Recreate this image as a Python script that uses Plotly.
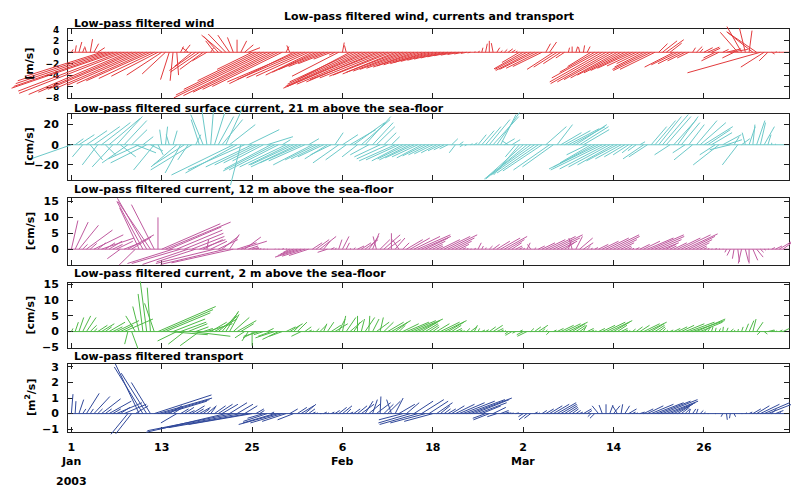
import numpy as np
import plotly.graph_objects as go

# ---------------- data (stick components, 12-hourly from 1 Jan 2003) ----------------
wind_u = [
    0.3, 0.2, 0.5, 0.3, -0.3, 0.4, 0.8, 1.2, -13, -15,
    -16, -17, -18, -17.5, -18, -17, -16, -15, -14, -13,
    -12, -11, -9.5, -8, -6, -4, -1.5, -0.5, 0.3, 0.5,
    1.0, -1.0, -3.0, -4.5, -5.0, -4.0, -2.5, 0.5, -1.5, -2.5,
    -3.5, -3.0, -2.0, -1.0, 0.0, 1.0, 1.5, 2.0, -6, -10,
    -13, -15, -16, -15, -14, -13, -12, 0.5, -0.5, -11,
    -12, -11, -10, -9, -8, -7.5, -7, -6, -5, -3,
    -1.0, -8, 0.3, -0.3, -9, -11, -12, -13, -14, -14,
    -13, -12, -12, -11, -10, -10, -9, -9, -8.5, -8,
    -7.5, -7, -7, -6.5, -6, -6, -5.5, -5, -4.5, -4,
    -3.5, -3, -2.5, -2, -1.5, -1, -0.5, 0.2, 0.3, 0.2,
    0.3, 0.0, -0.3, 0.5, 0.3, 0.5, 0.8, 0.6, 0.3, -3,
    -5, -5.5, -6, -6, -5.5, -5, 0.8, 1.2, -4.5, -4,
    -3, -1.5, 0.2, 0.0, 0.3, -0.2, 0.2, 0.5, -4, -6,
    -8, -9, -9.5, -9, -8.5, -8, -7.5, -7, -6.5, -6,
    -5, -4, -5, -6, -6.5, -6, 1.5, 2.5, 3.0, 2.0,
    -5, -4.5, -4, -3, -2, 0.5, 1.0, 0.5, 1.5, 2.0,
    1.5, -2, -3, 1.0, 2.5, 3.0, -2, -3.0, -2.5, -1.0,
    0.5, -4.5, -5, -12.5, -4.0, -1.5, 0.5, 0.2, 0.1, 0,
]
wind_v = [
    0.5, 1.2, 1.8, 0.8, 1.0, 2.3, 1.5, 0.8, -4.2, -5.0,
    -5.5, -6.0, -6.3, -6.8, -7.2, -7.4, -7.0, -6.5, -6.2, -5.8,
    -5.5, -5.0, -4.6, -4.2, -4.0, -3.8, -4.8, -5.0, -4.0, 1.0,
    1.3, 0.8, -2.5, -3.2, -3.5, -3.0, -1.5, 0.8, 2.0, 2.8,
    3.0, 3.2, 3.0, 2.6, 2.2, 2.0, 1.3, 0.8, -3.0, -5.0,
    -6.5, -7.5, -8.0, -7.6, -7.0, -6.5, -6.0, 1.0, 1.2, -5.5,
    -5.2, -4.8, -4.5, -4.2, -4.0, -3.5, -3.0, -2.5, -2.0, -1.2,
    -0.5, -4.2, 1.7, 1.2, -4.8, -5.2, -5.6, -6.0, -6.3, -6.0,
    -5.6, -5.2, -4.8, -4.5, -4.2, -4.0, -3.8, -3.5, -3.3, -3.0,
    -2.8, -2.6, -2.4, -2.2, -2.0, -1.8, -1.6, -1.4, -1.2, -1.0,
    -0.8, -0.6, -0.5, -0.4, -0.3, -0.2, -0.1, 0.1, 0.2, 0.8,
    1.5, 2.0, 1.6, 0.8, 0.3, 0.5, 0.6, 0.4, 0.2, -1.8,
    -2.9, -3.0, -3.2, -3.0, -2.8, -2.5, 1.5, 1.8, -3.0, -2.6,
    -2.0, -1.0, 0.8, 1.0, 1.0, 0.9, 1.2, 1.0, -2.5, -3.5,
    -4.5, -5.2, -5.5, -5.2, -4.8, -4.5, -4.0, -3.6, -3.2, -2.8,
    -2.4, -2.0, -2.6, -3.0, -3.2, -3.0, 1.5, 2.0, 2.2, 1.6,
    -2.6, -2.2, -2.0, -1.5, -1.0, 0.8, 1.0, 0.6, 0.8, 0.9,
    0.7, -1.0, -1.5, 0.5, 0.6, 0.5, -1.0, 3.5, 4.5, 4.2,
    3.8, 3.6, 3.5, -3.6, -2.6, -1.5, -0.3, 0.1, 0, 0,
]
surf_u = [
    -42, 8, 15, -10, 20, 12, 25, -15, 28, 10,
    30, -20, 25, 15, 22, -25, 15, 20, -30, 10,
    -35, 12, -20, 5, -2, 2, -3, 4, -25, -15,
    -30, -10, -40, 5, -8, -12, -5, 3, 10, 15,
    20, 18, 25, -60, -50, -10, -55, 30, -45, -40,
    -35, -30, 25, -45, -50, -48, 8, -45, -40, -42,
    -45, -40, -35, 10, -38, -30, -28, -25, -22, -20,
    8, -25, 15, -20, 25, 30, -15, 28, 25, -18,
    20, 18, -25, 12, -30, 8, -35, -32, -30, -28,
    -30, -28, -25, -24, -22, -20, -18, -15, -12, -10,
    -8, 6, -6, 4, -3, -2, 2, 3, 8, 12,
    15, 20, 25, 22, 15, 10, -6, 8, -10, -25,
    -35, -40, -45, -42, -40, -38, 20, -35, -30, 15,
    20, 25, 30, 32, 30, 28, 25, -20, -30, -40,
    -48, -50, -45, -40, -35, -30, -25, -20, -15, -10,
    -8, 5, -20, -18, 15, 20, 22, 25, 24, -15,
    22, 20, 18, -12, 15, -18, 20, 25, 28, 22,
    20, -15, -25, 18, 15, -20, 5, -15, 8, -3,
    6, 2, 8, 5, 10, 3, 0, 0, 0, 0,
]
surf_v = [
    -15, 6, 10, -12, 14, -15, 18, -20, 22, -10,
    26, -22, 28, -12, 24, -18, 15, -8, -14, 8,
    -18, -6, -25, -10, 15, 18, 10, 14, -22, -28,
    -20, -15, -25, 10, 25, 30, 35, 38, 32, 28,
    25, 40, 20, -30, -28, -40, -25, 15, -22, -20,
    -18, -16, 8, -24, -26, -25, 5, -22, -20, -20,
    -22, -18, -16, 6, -20, -15, -14, -12, -14, -10,
    12, -18, 10, -15, 15, 22, -12, 25, 28, -10,
    22, 18, -12, 12, -14, 8, -16, -15, -16, -14,
    -15, -13, -12, -13, -11, -10, -9, -8, -6, -5,
    -4, 6, -8, 3, -2, -1, 1, 2, 10, 14,
    18, 25, 28, 32, 30, 6, 4, 5, -12, -30,
    -32, -34, -34, -30, -28, -26, 18, -25, -22, 20,
    12, 14, 16, 18, 20, 18, 15, -10, -18, -22,
    -24, -25, -24, -22, -20, -16, -14, -12, -10, -8,
    -6, 3, -14, -12, 18, 24, 28, 30, 28, -10,
    25, 28, 22, -8, 20, -15, 24, 22, 18, 15,
    12, -10, -20, 10, 5, -5, 8, -20, 6, 12,
    18, 20, 24, 22, 18, 10, 2, 1, 0, 0,
]
cur12_u = [
    2, 4, 6, 1.5, 8, 2, 9, 2.5, 10, 3,
    4, 3, 5, -4, 5, 8, 6, -5, -6, -8,
    -9, -10, -7, 0, 18, 20, 16, -14, 14, -15,
    12, -14, 10, -12, 8, 6, 0.5, 5, -18, 6,
    5, -20, 3, -19, 6, 8, 5, 3, 2, 1,
    0.5, 0.3, 0.2, 0, 0.2, 0.3, 0.5, 0.3, -2, -4,
    -6, -8, -7, -6, 3, 4, 5, 2, -3, 1,
    0.5, 1, 2, 1, 0.3, 0.5, 2, 3, 4, 3,
    2, -1, 3, 5, 4, 0, 3, -2, 2, 5,
    6, 8, 10, 9, 7, 5, 3, 2, 6, 8,
    9, 7, 5, 3, 1, 0.5, 0.3, 0.5, 1, 0.5,
    0.2, 1, 2, 4, 6, 7, 5, 3, 2, 1,
    0.5, 1, -1, 0.5, 2, 4, 6, 8, 9, 7,
    5, 3, 1, -1, 2, 4, 3, 1, 0.5, 1,
    3, 5, 7, 9, 8, 6, 4, 2, 1, 0.5,
    1, 3, 5, 8, 10, 9, 7, 5, 3, 2,
    4, 7, 9, 10, 8, 6, 4, 2, 1, 0.5,
    0.3, 0.5, 0.3, 0.2, -0.5, -1, -0.5, 0.5, -1, 1,
    0, 1.5, 2, 1, 0.5, 0.3, 1, 2, 4, 6,
]
cur12_v = [
    9, 8.5, 7.5, 1.5, 6, 1.8, 4.5, 2, 3.5, 2,
    2.5, 1.5, 2.5, -3, 2, 4.5, 3.8, -5, 13, 15,
    16, 15, 14, 10, 8, 8.5, 7, -4.5, 6, -4.5,
    5, -4.8, 4, -4, 3, 3, 3, 2.5, -4.5, 3,
    4, -4.8, 4.6, -4.3, 2, 2.5, 3.8, 1, 0.5, 0.3,
    0.2, 0.1, 0, 0, 0.1, 0, 0.2, 0.1, -1, -1.5,
    -2, -2.5, -2.2, -2, 2, 3, 4, 2.5, -1, 0.5,
    0.3, 3, 4, 2, 0.2, 0.5, 1, 2, 3, 4,
    5, 4, 3, 4.5, 3, 5, 3.5, 3, 2, 3,
    3.5, 4, 4.5, 4, 3.5, 2.5, 1.5, 1, 3, 4,
    4.5, 3.5, 2.5, 1.5, 0.5, 0.2, 0.1, 0.3, 2, 1,
    0.5, 1, 1.5, 2.5, 3.5, 4, 3, 2, 1, 0.5,
    0.3, 2, 1.5, 0.5, 1, 2, 3, 4, 4.5, 3.5,
    2.5, 2, 3, 3.5, 4, 3.5, 2, 1, 0.3, 0.5,
    1.5, 2.5, 3.5, 4.5, 4, 3, 2, 1, 0.5, 0.3,
    0.5, 1.5, 2.5, 3.5, 4.5, 4, 3, 2, 1.5, 1,
    2, 3.5, 4.5, 4.8, 4, 3, 2, 1, 0.5, 0.2,
    0.1, 0.2, 0.1, 0, -1, -2, -3, -4, -4.5, -4,
    -4.5, -3.5, -2.5, -1, -0.3, 0, 0.5, 1, 2.5, 4.5,
]
cur2_u = [
    0.5, 1, 1.5, 2.5, 3, 2, 1, 3, 4, 2,
    5, 3, 7, 4, 9, -1, 2, -3, -2, -1.5,
    -2, -1, -3, 18, 16, 14, 12, 10, -6, 8,
    -5, 6, 12, 4, -6, 3, 8, 5, 7, 6,
    5, 4, 3, 5, 6, 4, -3, -2, 0, -4,
    -5, -3, 2, -4, -6, -5, -4, 3, 4, 2,
    3, -3, 2, 1, 0.5, 1, 2, 1, 2, 3,
    4, 2, 1, 3, 4, 2, 0, 1, 3, 0.3,
    2, 4, 1, 3, 5, 6, 4, 2, 5, 7,
    8, 9, 7, 5, 4, 3, 2, 4, 6, 7,
    5, 3, 2, 1, 0.5, 1, 2, 1, 0.5, 1,
    1, 2, 3, 2, 1, 0.5, -1, -2, -1, 1,
    -2, -3, 1, 2, 3, 1, 0.5, -1, 1, 2,
    4, 5, 6, 4, 3, 2, 1, 2, 1, 0.5,
    2, 4, 6, 7, 5, 3, 2, 1, 0.5, 1,
    2, 3, 5, 6, 4, 3, 2, 1, 0.5, 1,
    2, 3, 4, 6, 8, 10, 9, 7, 2, 1,
    0.5, 0.3, 0.5, 0.2, 0.5, 1, 0.3, 0.2, 0.5, 1,
    1.5, 1, 2, -1, 1, 2, 1, 0.5, 1, 2,
]
cur2_v = [
    1, 3, 4.5, 5, 4.5, 2, 1, 2, 2.5, 1.5,
    3, 1.5, 3.5, 2, 4, -4, -5.5, 5, 8, 12,
    16, 14, 9, 8, 7, 6, -1, 4, -3, 3,
    -4, 2.5, -1.5, 1.5, -4.5, 1, 2.5, 3, 4, 5,
    6, 6.5, 5.5, 4.5, 3.5, 2.5, -2, -3, -4.5, -2,
    -1.5, -1, 1, -1.5, -2, -2.5, -1.5, 1.5, 2.5, 2,
    3, -1.5, 1.5, 0.5, 0.2, 1, 2, 2.5, 3, 2,
    2.5, 4, 5, 4.5, 3.5, 3, 5, 4, 4.5, 5,
    4, 3, 4.5, 3, 3, 3.5, 3, 2, 2.5, 3,
    3.5, 4, 3.5, 3, 2.5, 2, 1.5, 2.5, 3, 3.5,
    3, 2, 1, 0.5, 0.3, 1, 1.5, 2, 1, 0.5,
    0.6, 1.5, 2, 1, 0.5, 0.3, -0.8, -1.2, -0.5, 0.5,
    -1, -1.5, 1, 1.5, 2, 1, 0.5, -1, 0.5, 1,
    2, 2.5, 3, 2.5, 2, 1.5, 2, 1, 0.5, 0.3,
    1, 2, 3, 3.5, 3, 2, 1, 0.5, 0.3, 0.8,
    1.5, 2, 2.5, 3, 2.5, 2, 1.5, 1, 0.5, 0.5,
    1, 1.5, 2, 2.5, 3, 3.5, 4, 3, 1.5, 1.5,
    1.5, 1.2, 1, 1.5, 1.2, 0.8, 0.5, 0.8, 1.5, 2.5,
    3.5, 4, 3, -1, -0.8, 0.5, 0.3, 0.2, 0.5, 1,
]
trans_u = [
    0.1, 0.05, 0.3, 0.2, 0.8, 0.2, 1.0, 0.3, 1.2, 0.4,
    1.4, 0.5, 1.6, 0.6, 1.4, -1.2, -1.0, 0.8, -1.5, -1.8,
    -1.6, -1.2, 3.6, 3.4, 3.0, 2.6, 0.8, 0.6, -1.0, 0.5,
    0.6, 0.4, 0.8, 0.5, 0.7, 0.4, 0.6, 0.3, 0.7, 0.9,
    1.0, -5.0, 1.1, -5.4, 1.0, -5.2, 0.8, -5.0, -4.0, 0.5,
    0.3, -1.0, -1.5, 0.2, -2.0, -2.5, -2.0, -1.5, 0.5, -1.0,
    0.6, 0.8, 0.7, 0.4, 0.2, 0.1, 0.1, 0.2, 0.1, 0.2,
    0.3, 0.5, 0.6, 0.3, 0.2, 0.4, 0.6, 0.8, 0.5, 0.7,
    0.3, 0.9, 0.05, 0.6, 0.8, -0.3, 0.5, 1.0, -1.5, 0.8,
    -2.0, 1.2, -2.4, 1.4, -2.2, 1.2, -1.8, 1.0, 0.6, 0.4,
    0.5, 0.8, 1.2, 1.6, 2.0, 2.4, 2.6, 2.2, 1.8, 1.2,
    -0.8, -1.0, 0.8, -0.6, 0.5, 0.3, 0.2, 0.1, 0.2, 0.1,
    -0.3, -0.5, -0.4, 0.2, 0.1, 0.3, 0.5, 0.8, 1.0, 1.2,
    1.0, 0.8, 0.6, 0.4, 0.3, 0.2, 0.5, 0.3, -0.2, -0.3,
    -0.4, -0.2, 0, 0.2, 0.4, -0.3, 0.1, 0.3, 0.5, 0.2,
    0.1, 0.3, 0.6, 1.0, 1.4, 1.8, 2.0, 2.2, 2.0, 1.6,
    1.2, 0.8, 0.5, 0.3, 0.1, 0.2, 0.1, 0.2, 0.1, 0.05,
    0, 0.05, 0, -0.1, 0.05, -0.05, 0.1, 0, 0.05, 0.1,
    0.2, 0.5, 0.8, 1.2, 1.6, 2.0, 0.3, 0.5, 0.1, 0,
]
trans_v = [
    1.25, 0.8, 0.9, 0.3, 1.3, 0.3, 1.1, 0.3, 0.95, 0.3,
    0.8, 0.3, 0.7, 0.4, 0.6, -1.5, -1.3, 0.5, 3.2, 3.0,
    2.6, 2.0, 1.2, 1.0, 0.9, 0.8, 0.5, 0.4, -0.6, 0.3,
    0.4, 0.2, 0.5, 0.3, 0.4, 0.3, 0.5, 0.4, 0.5, 0.6,
    0.6, -1.2, 0.7, -1.1, 0.6, -1.0, 0.5, -0.9, -0.7, 0.3,
    0.2, -0.3, -0.5, 0.1, -0.6, -0.7, -0.6, -0.5, 0.3, -0.4,
    0.4, 0.5, 0.6, 0.3, 0.1, 0.05, 0, 0.1, 0.05, 0.1,
    0.2, 0.4, 0.5, 0.3, 0.1, 0.3, 0.5, 0.6, 0.8, 0.6,
    0.9, 0.7, 1.1, 0.6, 0.8, 0.9, 1.0, 0.6, -0.4, 0.7,
    -0.6, 0.8, -0.7, 0.9, -0.6, 0.8, -0.5, 0.7, 0.5, 0.3,
    0.3, 0.5, 0.6, 0.7, 0.8, 0.9, 1.0, 0.9, 0.7, 0.5,
    -0.3, -0.4, 0.4, -0.2, 0.2, 0.1, 0.05, 0.05, 0.05, 0,
    -0.2, -0.4, -0.3, 0.1, 0.05, 0.2, 0.3, 0.5, 0.6, 0.7,
    0.6, 0.5, 0.4, 0.3, 0.2, 0.1, 0.3, 0.2, -0.2, -0.3,
    0.5, 0.55, 0.6, 0.55, 0.5, 0.5, 0.6, 0.5, 0.3, 0.1,
    0.05, 0.1, 0.3, 0.5, 0.6, 0.7, 0.8, 0.9, 0.8, 0.7,
    0.6, 0.5, 0.4, 0.3, 0.3, 0.3, 0.3, 0.2, 0.1, 0,
    0, 0, 0, -0.2, -0.4, -0.3, -0.2, 0, 0, 0.05,
    0.1, 0.3, 0.5, 0.6, 0.7, 0.8, 0.3, 0.2, 0.1, 0,
]

# x ticks: days since 1 Jan 2003
tick_days = [0, 12, 24, 36, 48, 60, 72, 84]
tick_text = ["1", "13", "25", "6", "18", "2", "14", "26"]
month_days = [0, 36, 60]
month_text = ["Jan", "Feb", "Mar"]
year_text = "2003"

days = np.arange(len(wind_u)) * 0.5

# ---------------- layout geometry (pixels) ----------------
W, H = 791, 494
X0PX, X1PX = 68, 789
XR = [-0.45, 95.3]
PPD = (X1PX - X0PX) / (XR[1] - XR[0])
FONT = "DejaVu Sans"

panels = [
    dict(u=wind_u, v=wind_v, color="#e23a3c", top=25, bot=95, yr=[-8, 4],
         yt=[-8, -6, -4, -2, 0, 2, 4], ylab="[m/s]", ext=(16, 4), tfs=9,
         title="Low-pass filtered wind", ty=19),
    dict(u=surf_u, v=surf_v, color="#6cc9c9", top=111, bot=179, yr=[-35, 31],
         yt=[-20, 0, 20], ylab="[cm/s]", ext=(12, 6), tfs=11,
         title="Low-pass filtered surface current, 21 m above the sea-floor", ty=106),
    dict(u=cur12_u, v=cur12_v, color="#bf5a9f", top=197, bot=266, yr=[-5, 16.2],
         yt=[0, 5, 10, 15], ylab="[cm/s]", ext=(2, 2), tfs=11,
         title="Low-pass filtered current, 12 m above the sea-floor", ty=189),
    dict(u=cur2_u, v=cur2_v, color="#4fb947", top=284, bot=351, yr=[-5.3, 15.6],
         yt=[-5, 0, 5, 10, 15], ylab="[cm/s]", ext=(2, 2), tfs=11,
         title="Low-pass filtered current, 2 m above the sea-floor", ty=275),
    dict(u=trans_u, v=trans_v, color="#30489a", top=367, bot=437, yr=[-1.2, 3.2],
         yt=[-1, 0, 1, 2, 3], ylab="[m<sup>2</sup>/s]", ext=(2, 2), tfs=11,
         title="Low-pass filtered transport", ty=360),
]

fig = go.Figure()
layout = {}
annotations = []
n = len(panels)

for i, p in enumerate(panels, start=1):
    yr = p["yr"]
    ppu = (p["bot"] - p["top"]) / (yr[1] - yr[0])
    k = ppu / PPD  # days of x per unit of u (isotropic sticks)
    xs, ys = [], []
    for t, u, v in zip(days, p["u"], p["v"]):
        xs += [t, t + u * k, None]
        ys += [0, v, None]
    fig.add_trace(go.Scatter(x=XR, y=[0, 0], mode="lines",
                             line=dict(color=p["color"], width=1),
                             xaxis=f"x{i}", yaxis=f"y{i}",
                             hoverinfo="skip", showlegend=False))
    j = i + n
    fig.add_trace(go.Scatter(x=xs, y=ys, mode="lines",
                             line=dict(color=p["color"], width=1),
                             xaxis=f"x{j}", yaxis=f"y{j}",
                             hoverinfo="skip", showlegend=False))
    et, eb = p["ext"]
    xn = "xaxis" if i == 1 else f"xaxis{i}"
    yn = "yaxis" if i == 1 else f"yaxis{i}"
    common = dict(showline=True, linecolor="#202020", linewidth=1, mirror="ticks",
                  ticks="inside", ticklen=5, tickcolor="#202020", showgrid=False,
                  zeroline=False, fixedrange=True)
    layout[xn] = dict(domain=[X0PX / W, X1PX / W], range=XR, anchor=f"y{i}",
                      tickmode="array", tickvals=tick_days, ticktext=tick_text,
                      showticklabels=(i == n), ticklabelstandoff=5,
                      tickfont=dict(family=FONT, size=11, color="black", weight="bold"),
                      **common)
    layout[yn] = dict(domain=[1 - p["bot"] / H, 1 - p["top"] / H], range=yr,
                      anchor=f"x{i}", tickmode="array", tickvals=p["yt"],
                      ticklabelstandoff=6,
                      tickfont=dict(family=FONT, size=p["tfs"], color="black", weight="bold"),
                      **common)
    layout[f"xaxis{j}"] = dict(domain=[0, 1],
                               range=[XR[0] - X0PX / PPD, XR[1] + (W - X1PX) / PPD],
                               anchor=f"y{j}", visible=False, fixedrange=True)
    layout[f"yaxis{j}"] = dict(domain=[1 - (p["bot"] + eb) / H, 1 - (p["top"] - et) / H],
                               range=[yr[0] - eb / ppu, yr[1] + et / ppu],
                               anchor=f"x{j}", visible=False, fixedrange=True)
    annotations.append(dict(text=p["title"], xref="paper", yref="paper",
                            x=72 / W, y=1 - p["ty"] / H, xanchor="left", yanchor="middle",
                            showarrow=False,
                            font=dict(family=FONT, size=11, color="black", weight="bold")))
    annotations.append(dict(text=p["ylab"], xref="paper", yref="paper",
                            x=30 / W, y=1 - (p["top"] + p["bot"]) / 2 / H, textangle=-90,
                            xanchor="center", yanchor="middle", showarrow=False,
                            font=dict(family=FONT, size=11, color="black", weight="bold")))

annotations.append(dict(text="Low-pass filtered wind, currents and transport",
                        xref="paper", yref="paper", x=429 / W, y=1 - 12 / H,
                        xanchor="center", yanchor="middle", showarrow=False,
                        font=dict(family=FONT, size=11, color="black", weight="bold")))
for d, m in zip(month_days, month_text):
    annotations.append(dict(text=m, xref=f"x{n}", yref="paper", x=d, y=1 - 467 / H,
                            xanchor="center", yanchor="middle", showarrow=False,
                            font=dict(family=FONT, size=11, color="black", weight="bold")))
annotations.append(dict(text=year_text, xref=f"x{n}", yref="paper", x=month_days[0],
                        y=1 - 487 / H, xanchor="center", yanchor="middle", showarrow=False,
                        font=dict(family=FONT, size=11, color="black", weight="bold")))

fig.update_layout(width=W, height=H, margin=dict(l=0, r=0, t=0, b=0),
                  paper_bgcolor="white", plot_bgcolor="rgba(0,0,0,0)",
                  showlegend=False, annotations=annotations, **layout)

fig.write_html("out.html", include_plotlyjs=True, config={"displayModeBar": False})
